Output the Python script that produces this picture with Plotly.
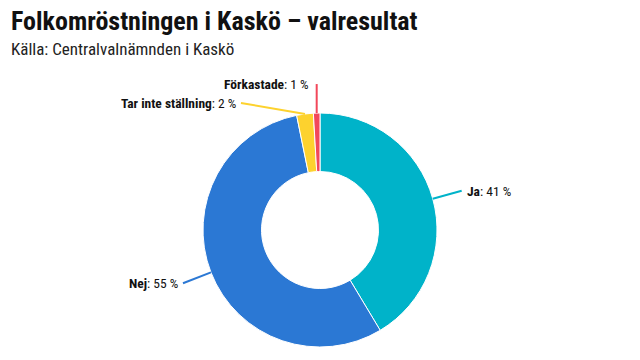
import math
import plotly.graph_objects as go

# ---- data ----
categories = ["Ja", "Nej", "Tar inte ställning", "Förkastade"]
shares = [41.4, 55.4, 2.3, 0.9]          # percent of votes
shown_pct = [41, 55, 2, 1]               # percentages as printed on the labels
colors = ["#00b3c9", "#2b78d4", "#fdd22e", "#f2475a"]

title_text = "Folkomröstningen i Kaskö – valresultat"
subtitle_text = "Källa: Centralvalnämnden i Kaskö"

W, H = 640, 360
FONT = "Roboto Condensed, DejaVu Sans Condensed, sans-serif"

# pie geometry (pixels)
cx, cy, R = 320, 230, 117
dom_y = [(H - (cy + R)) / H, (H - (cy - R)) / H]

fig = go.Figure(go.Pie(
    labels=categories, values=shares, sort=False, direction="clockwise",
    rotation=0, hole=0.5, textinfo="none", hoverinfo="label+percent",
    marker=dict(colors=colors, line=dict(color="white", width=1)),
    domain=dict(x=[0, 1], y=dom_y), showlegend=False,
))

def px2paper(x, y):
    return x / W, 1 - y / H

# label placement (layout): how the connector leaves the slice edge
label_end = {
    "Ja": ("radial", 30),
    "Nej": ("radial", 30),
    "Tar inte ställning": ("offset", (-64, -11)),
    "Förkastade": ("offset", (0, -29)),
}
label_anchor = {"Ja": "left", "Nej": "right", "Tar inte ställning": "right", "Förkastade": "right"}

total = sum(shares)
cum = 0.0
shapes, annotations = [], []
for lab, v, p, col in zip(categories, shares, shown_pct, colors):
    mid = (cum + v / 2) / total * 2 * math.pi
    cum += v
    sx = cx + R * math.sin(mid)
    sy = cy - R * math.cos(mid)
    mode, arg = label_end[lab]
    if mode == "radial":
        ex = sx + arg * math.sin(mid)
        ey = sy - arg * math.cos(mid)
    else:
        ex, ey = sx + arg[0], sy + arg[1]
    x0, y0 = px2paper(sx, sy)
    x1, y1 = px2paper(ex, ey)
    shapes.append(dict(type="line", xref="paper", yref="paper", x0=x0, y0=y0, x1=x1, y1=y1,
                       line=dict(color=col, width=2)))
    anchor = label_anchor[lab]
    tx = ex + (3 if anchor == "left" else -3)
    if lab == "Förkastade":
        tx = ex - 6
    ax_, ay_ = px2paper(tx, ey)
    annotations.append(dict(
        x=ax_, y=ay_, xref="paper", yref="paper", xanchor=anchor, yanchor="middle",
        text=f"<b>{lab}</b>: {p} %", showarrow=False,
        font=dict(family=FONT, size=13.5, color="#111111"),
    ))

tx, ty = px2paper(9, 21)
annotations.append(dict(x=tx, y=ty, xref="paper", yref="paper", xanchor="left", yanchor="middle",
                        text=f"<b>{title_text}</b>", showarrow=False,
                        font=dict(family=FONT, size=26, color="#111111")))
sx_, sy_ = px2paper(9, 49)
annotations.append(dict(x=sx_, y=sy_, xref="paper", yref="paper", xanchor="left", yanchor="middle",
                        text=subtitle_text, showarrow=False,
                        font=dict(family=FONT, size=17, color="#222222")))

fig.update_layout(
    width=W, height=H, margin=dict(l=0, r=0, t=0, b=0),
    paper_bgcolor="white", plot_bgcolor="white",
    shapes=shapes, annotations=annotations,
)

fig.write_html("out.html", config={"displayModeBar": False},
               post_script="document.body.style.margin='0';")
